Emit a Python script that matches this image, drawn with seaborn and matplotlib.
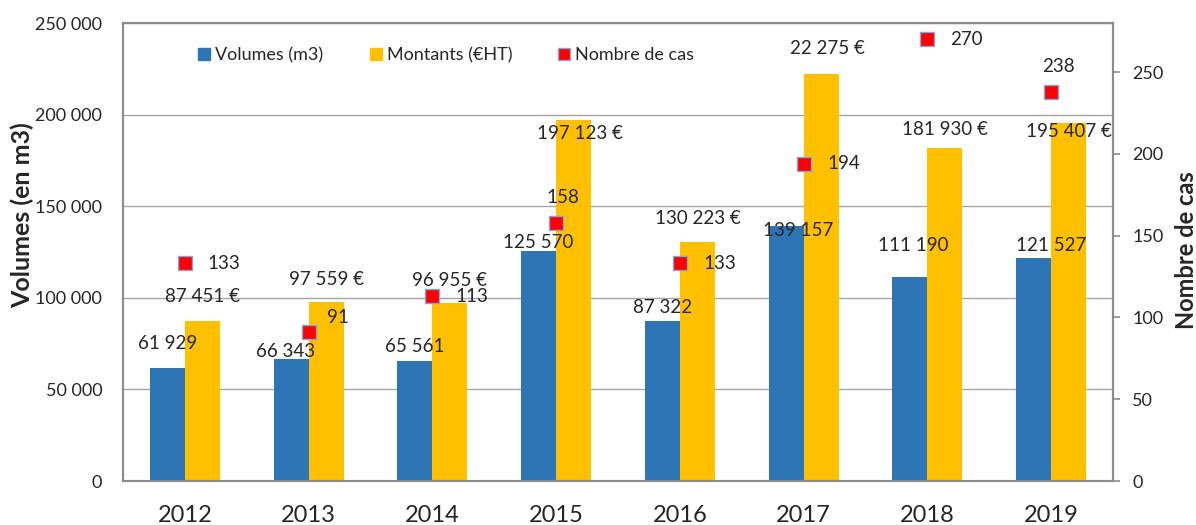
import matplotlib
matplotlib.use('Agg')
import matplotlib.pyplot as plt
import seaborn as sns
import pandas as pd
from matplotlib.lines import Line2D
from matplotlib.ticker import FuncFormatter, MultipleLocator

# Données
annees = ['2012', '2013', '2014', '2015', '2016', '2017', '2018', '2019']
volumes = [61929, 66343, 65561, 125570, 87322, 139157, 111190, 121527]
montants = [87451, 97559, 96955, 197123, 130223, 222275, 181930, 195407]
montants_labels = ['87 451 €', '97 559 €', '96 955 €', '197 123 €',
                   '130 223 €', '22 275 €', '181 930 €', '195 407 €']
nb_cas = [133, 91, 113, 158, 133, 194, 270, 238]

BLEU = '#2E75B6'
JAUNE = '#FFC000'
ROUGE = '#FF0000'
GRIS = '#8C8C8C'

sns.set_style("white")
plt.rcParams['font.family'] = ['Lato', 'DejaVu Sans']

df = pd.DataFrame({
    'annee': annees * 2,
    'valeur': volumes + montants,
    'serie': ['Volumes (m3)'] * len(annees) + ['Montants (€HT)'] * len(annees),
})
df_cas = pd.DataFrame({'annee': annees, 'cas': nb_cas})

fig = plt.figure(figsize=(11.96, 5.25), dpi=100)
ax = fig.add_axes([123 / 1196, 1 - 481 / 525, 990 / 1196, 458 / 525])

sns.barplot(data=df, x='annee', y='valeur', hue='serie',
            palette=[BLEU, JAUNE], width=0.566, gap=0, linewidth=0,
            saturation=1, ax=ax, legend=False)
ax.set_xlim(-0.5, len(annees) - 0.5)
ax.set_ylim(0, 250000)
ax.yaxis.set_major_locator(MultipleLocator(50000))
ax.yaxis.set_major_formatter(FuncFormatter(lambda v, p: f"{int(v):,}".replace(",", " ")))
ax.set_axisbelow(True)
ax.yaxis.grid(True, color='#A6A6A6', linewidth=1)
ax.set_xlabel('')
ax.set_ylabel('Volumes (en m3)', fontsize=18, fontweight='bold', va='center')
ax.yaxis.set_label_coords(-0.102, 0.58)
ax.tick_params(axis='y', length=0, pad=15, labelsize=13)
ax.tick_params(axis='x', length=0, pad=17, labelsize=17)
for s in ax.spines.values():
    s.set_color(GRIS)
    s.set_linewidth(1.5)

# Étiquettes des barres (décalages en pixels: dx, dy au-dessus du sommet)
px = 0.72
off_vol = [(0, 24), (-6, 8), (0, 14), (0, 8), (0, 14), (12, -4), (3, 32), (18, 13)]
off_mnt = [(0, 24), (0, 23), (0, 23), (6, -14), (0, 24), (6, 25), (0, 18), (0, -8)]
for bar, val, (dx, dy) in zip(ax.containers[0], volumes, off_vol):
    ax.annotate(f"{val:,}".replace(",", " "),
                (bar.get_x() + bar.get_width() / 2, bar.get_height()),
                xytext=(dx * px, dy * px), textcoords='offset points',
                ha='center', va='center', fontsize=13.5)
for bar, lab, (dx, dy) in zip(ax.containers[1], montants_labels, off_mnt):
    ax.annotate(lab, (bar.get_x() + bar.get_width() / 2, bar.get_height()),
                xytext=(dx * px, dy * px), textcoords='offset points',
                ha='center', va='center', fontsize=13.5)

# Axe secondaire : nombre de cas
ax2 = ax.twinx()
sns.scatterplot(data=df_cas, x='annee', y='cas', marker='s', s=100,
                color=ROUGE, edgecolor='#7FA7D8', linewidth=1, ax=ax2,
                zorder=5, legend=False)
ax2.set_xlim(-0.5, len(annees) - 0.5)
ax2.set_ylim(0, 280)
ax2.yaxis.set_major_locator(MultipleLocator(50))
ax2.set_ylabel('Nombre de cas', fontsize=17, fontweight='bold',
               rotation=90, va='center', ha='center')
ax2.yaxis.set_label_coords(1.074, 0.504)
ax2.tick_params(axis='y', length=5, width=1.2, color=GRIS, pad=9, labelsize=13)
for s in ax2.spines.values():
    s.set_color(GRIS)
    s.set_linewidth(1.5)

off_cas = [(23, 0, 'left'), (18, 15, 'left'), (23, 0, 'left'), (7, 25, 'center'),
           (24, 0, 'left'), (24, 0, 'left'), (23, 0, 'left'), (7, 25, 'center')]
for i, (val, (dx, dy, ha)) in enumerate(zip(nb_cas, off_cas)):
    ax2.annotate(str(val), (i, val), xytext=(dx * px, dy * px),
                 textcoords='offset points', ha=ha, va='center', fontsize=13.5)

# Légende
handles = [
    Line2D([], [], marker='s', linestyle='', markersize=8.5,
           markerfacecolor=BLEU, markeredgecolor=BLEU),
    Line2D([], [], marker='s', linestyle='', markersize=8.5,
           markerfacecolor=JAUNE, markeredgecolor=JAUNE),
    Line2D([], [], marker='s', linestyle='', markersize=8.5,
           markerfacecolor=ROUGE, markeredgecolor='#7FA7D8', markeredgewidth=1),
]
ax2.legend(handles, ['Volumes (m3)', 'Montants (€HT)', 'Nombre de cas'],
           loc='center left', bbox_to_anchor=(0.075, 0.93), ncol=3,
           frameon=False, fontsize=13, handlelength=0.8, handletextpad=0.2,
           columnspacing=2.5, borderpad=0, borderaxespad=0)

plt.savefig('out.png', dpi=100)
